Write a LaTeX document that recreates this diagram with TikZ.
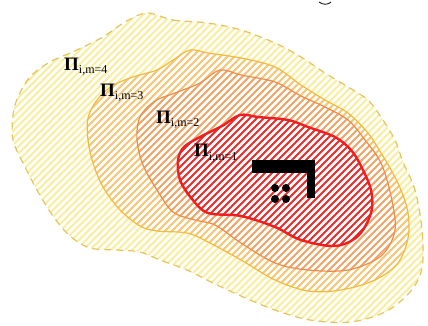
\documentclass[tikz,border=0pt]{standalone}
\usepackage{fontspec}
\setmainfont{Liberation Serif}
\definecolor{hatchA}{HTML}{F9EE9E}
\definecolor{hatchB}{HTML}{F6C674}
\definecolor{hatchC}{HTML}{F2A466}
\definecolor{hatchD}{HTML}{EE2A2A}
\definecolor{lineA}{HTML}{E6C35C}
\definecolor{lineB}{HTML}{F5BA3A}
\definecolor{lineC}{HTML}{F08C48}
\definecolor{lineD}{HTML}{F01E1E}
\newcommand\zone[4]{%
  \begin{scope}
    \clip plot[smooth cycle,tension=0.55] coordinates {#1};
    \fill[white] (0,0) rectangle (428,326);
    \foreach \i in {0,...,112}
      \draw[#2,line width=1.8pt] (\i*7-340,330) -- ++(336,-336);
  \end{scope}
  \draw[#3,#4] plot[smooth cycle,tension=0.55] coordinates {#1};
}
\tikzset{
  lab/.style={anchor=base west,inner sep=0pt,text=black},
}
\newcommand\piLab[1]{{\fontsize{19}{19}\selectfont\bfseries Π}{\fontsize{12}{12}\selectfont\raisebox{-3pt}{#1}}}
\begin{document}
\begin{tikzpicture}[x=1pt,y=-1pt]
\useasboundingbox (0,0) rectangle (428,326);
% outer zone m=4
\zone{(147,13) (173,20) (208,23) (241,30) (275,43) (301,57) (325,73) (348,87) (368,100) (381,117) (395,140) (403,162) (415,190) (422,230) (422,268) (410,292) (385,312) (350,322) (310,320) (275,310) (241,296) (213,283) (187,270) (160,260) (140,252) (117,250) (90,248) (70,236) (53,216) (37,190) (23,163) (13,140) (13,115) (18,97) (30,77) (50,62) (77,50) (103,37) (125,22)}{hatchA}{lineA}{line width=1.2pt,dash pattern=on 7pt off 5pt}
% zone m=3
\zone{(190,50) (208,53) (241,58) (275,67) (301,85) (325,100) (348,113) (368,133) (381,153) (390,168) (401,190) (408,213) (408,238) (398,263) (375,280) (341,290) (308,291) (275,280) (241,260) (208,242) (187,233) (157,231) (140,226) (120,210) (103,187) (93,163) (88,140) (88,118) (97,100) (112,86) (133,77) (157,70) (173,60)}{hatchB}{lineB}{line width=1.2pt}
% zone m=2
\zone{(220,70) (241,75) (275,82) (301,96) (325,107) (348,120) (365,140) (381,163) (391,196) (395,230) (381,256) (348,270) (308,270) (275,263) (241,243) (215,225) (195,220) (173,212) (157,190) (143,165) (137,140) (140,117) (155,101) (175,93) (200,83)}{hatchC}{lineC}{line width=1.2pt}
% zone m=1
\zone{(240,115) (258,117) (288,120) (308,127) (335,137) (351,150) (361,166) (371,190) (371,213) (358,236) (335,246) (301,240) (275,227) (241,216) (208,213) (192,199) (180,180) (178,160) (184,147) (200,137) (222,126)}{hatchD}{lineD}{line width=2.4pt}
% black marks
\fill[black] (252,160) rectangle (315,173);
\fill[black] (307,160) rectangle (315,198);
\foreach \n/\px/\py in {d1/275/188, d2/286/188, d3/275/199, d4/286/199}
  \node[circle,fill=black,inner sep=0pt,minimum size=8pt] (\n) at (\px,\py) {};
\draw[black,line width=0.8pt] (319,2) .. controls (323,5) and (328,5) .. (331,2);
% labels
\node[lab] (l4) at (64,71) {\piLab{i,m=4}};
\node[lab] (l3) at (100,97) {\piLab{i,m=3}};
\node[lab] (l2) at (156,124) {\piLab{i,m=2}};
\node[lab] (l1) at (194,157) {\piLab{i,m=1}};
\end{tikzpicture}
\end{document}
